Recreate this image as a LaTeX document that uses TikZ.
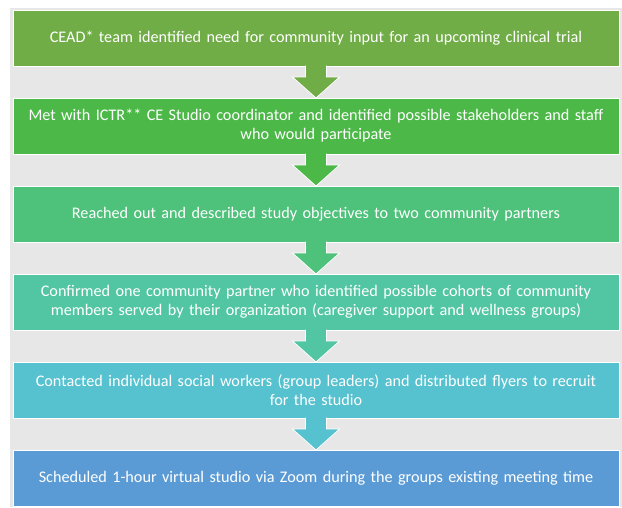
\documentclass[tikz,border=0pt]{standalone}
\usepackage{fontspec}
\setmainfont{Carlito}
\usetikzlibrary{positioning,calc}

\definecolor{bggray}{HTML}{E7E7E7}
\definecolor{stepA}{HTML}{70AD47}
\definecolor{stepB}{HTML}{4CB848}
\definecolor{stepC}{HTML}{4EC17A}
\definecolor{stepD}{HTML}{52C6A2}
\definecolor{stepE}{HTML}{56C1CF}
\definecolor{stepF}{HTML}{5B9BD5}

\tikzset{
  stepbox/.style={rectangle, draw=white, line width=0.8pt, text=white,
    minimum width=606pt, minimum height=56pt, text width=600pt, align=center,
    inner sep=0pt, outer sep=0pt, font=\fontsize{16.2}{19}\selectfont},
  blockarrow/.style={draw=white, line width=0.8pt, line join=miter}
}

\begin{document}
\begin{tikzpicture}[x=1pt,y=1pt,node distance=32pt]
\useasboundingbox (0,0) rectangle (622,-507);
\fill [bggray] (10,-8) rectangle (622,-507);
% steps
\node [stepbox, fill=stepA] (s1) at (316,-38) {CEAD* team identified need for community input for an upcoming clinical trial};
\node [stepbox, fill=stepB, below=of s1] (s2) {Met with ICTR** CE Studio coordinator and identified possible stakeholders and staff\\who would participate};
\node [stepbox, fill=stepC, below=of s2] (s3) {Reached out and described study objectives to two community partners};
\node [stepbox, fill=stepD, below=of s3] (s4) {Confirmed one community partner who identified possible cohorts of community\\members served by their organization (caregiver support and wellness groups)};
\node [stepbox, fill=stepE, below=of s4] (s5) {Contacted individual social workers (group leaders) and distributed flyers to recruit\\for the studio};
\node [stepbox, fill=stepF, below=of s5] (s6) {Scheduled 1-hour virtual studio via Zoom during the groups existing meeting time};
% arrows between steps
\foreach \a/\b/\c in {s1/s2/stepA, s2/s3/stepB, s3/s4/stepC, s4/s5/stepD, s5/s6/stepE}
  \filldraw [blockarrow, fill=\c] ($(\a.south)+(-10.5,0.4)$) -- ($(\a.south)+(-10.5,-11)$)
    -- ($(\a.south)+(-23.5,-11)$) -- (\b.north) -- ($(\a.south)+(23.5,-11)$)
    -- ($(\a.south)+(10.5,-11)$) -- ($(\a.south)+(10.5,0.4)$);
\end{tikzpicture}
\end{document}
